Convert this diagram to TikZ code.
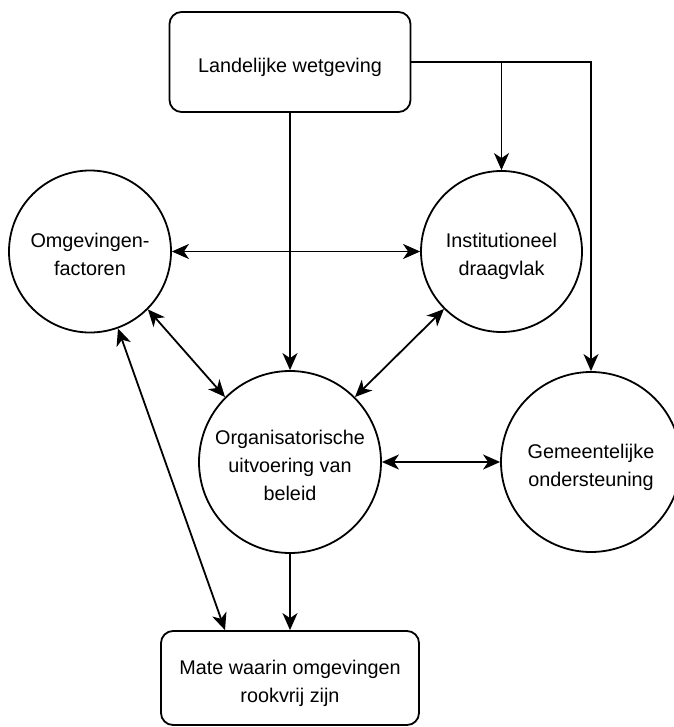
\documentclass[tikz,border=0pt]{standalone}
\usepackage{fontspec}
\setmainfont{Liberation Sans}
\usetikzlibrary{arrows.meta}
\newcommand{\tstr}{\rule{0pt}{25.5pt}}
\newcommand{\bstr}{\rule[-5pt]{0pt}{5pt}}
\begin{document}
\begin{tikzpicture}[x=1pt,y=-1pt,line width=1.8pt,
  >={Stealth[length=17pt,width=15pt,inset=5pt]},
  every node/.style={font=\fontsize{19.8}{28}\selectfont,align=center,inner sep=0pt},
  box/.style={draw,rounded corners=12pt,minimum width=241pt,minimum height=100pt},
  circ/.style={draw,circle}]
\fill[white] (0,0) rectangle (673,727);
\useasboundingbox (0,0) rectangle (673,727);
\node[box] (top) at (290,62) {\tstr Landelijke wetgeving\bstr};
\node[circ,minimum size=162pt] (omg) at (90,251.5) {\tstr Omgevingen-\\factoren\bstr};
\node[circ,minimum size=161pt] (inst) at (501.5,251.5) {\tstr Institutioneel\\draagvlak\bstr};
\node[circ,minimum size=182pt] (org) at (290,462) {\tstr Organisatorische\\uitvoering van\\beleid\bstr};
\node[circ,minimum size=180pt] (gem) at (591,462) {\tstr Gemeentelijke\\ondersteuning\bstr};
\node[box,minimum width=258pt,minimum height=94pt] (bot) at (290,678) {\tstr Mate waarin omgevingen\\rookvrij zijn\bstr};
\draw[->] (top.south) -- (org.north);
\draw[->] (top.east) -| (gem.north);
\draw[->] (inst.north |- top.east) -- (inst.north);
\draw[<->] (omg.east) -- (inst.west);
\draw[<->] (omg.-45) -- (org.135);
\draw[<->] (inst.-135) -- (org.45);
\draw[<->] (org.east) -- (gem.west);
\draw[->] (org.south) -- (bot.north);
\draw[<->] (omg.-70) -- ([xshift=-65pt]bot.north);
\end{tikzpicture}
\end{document}
